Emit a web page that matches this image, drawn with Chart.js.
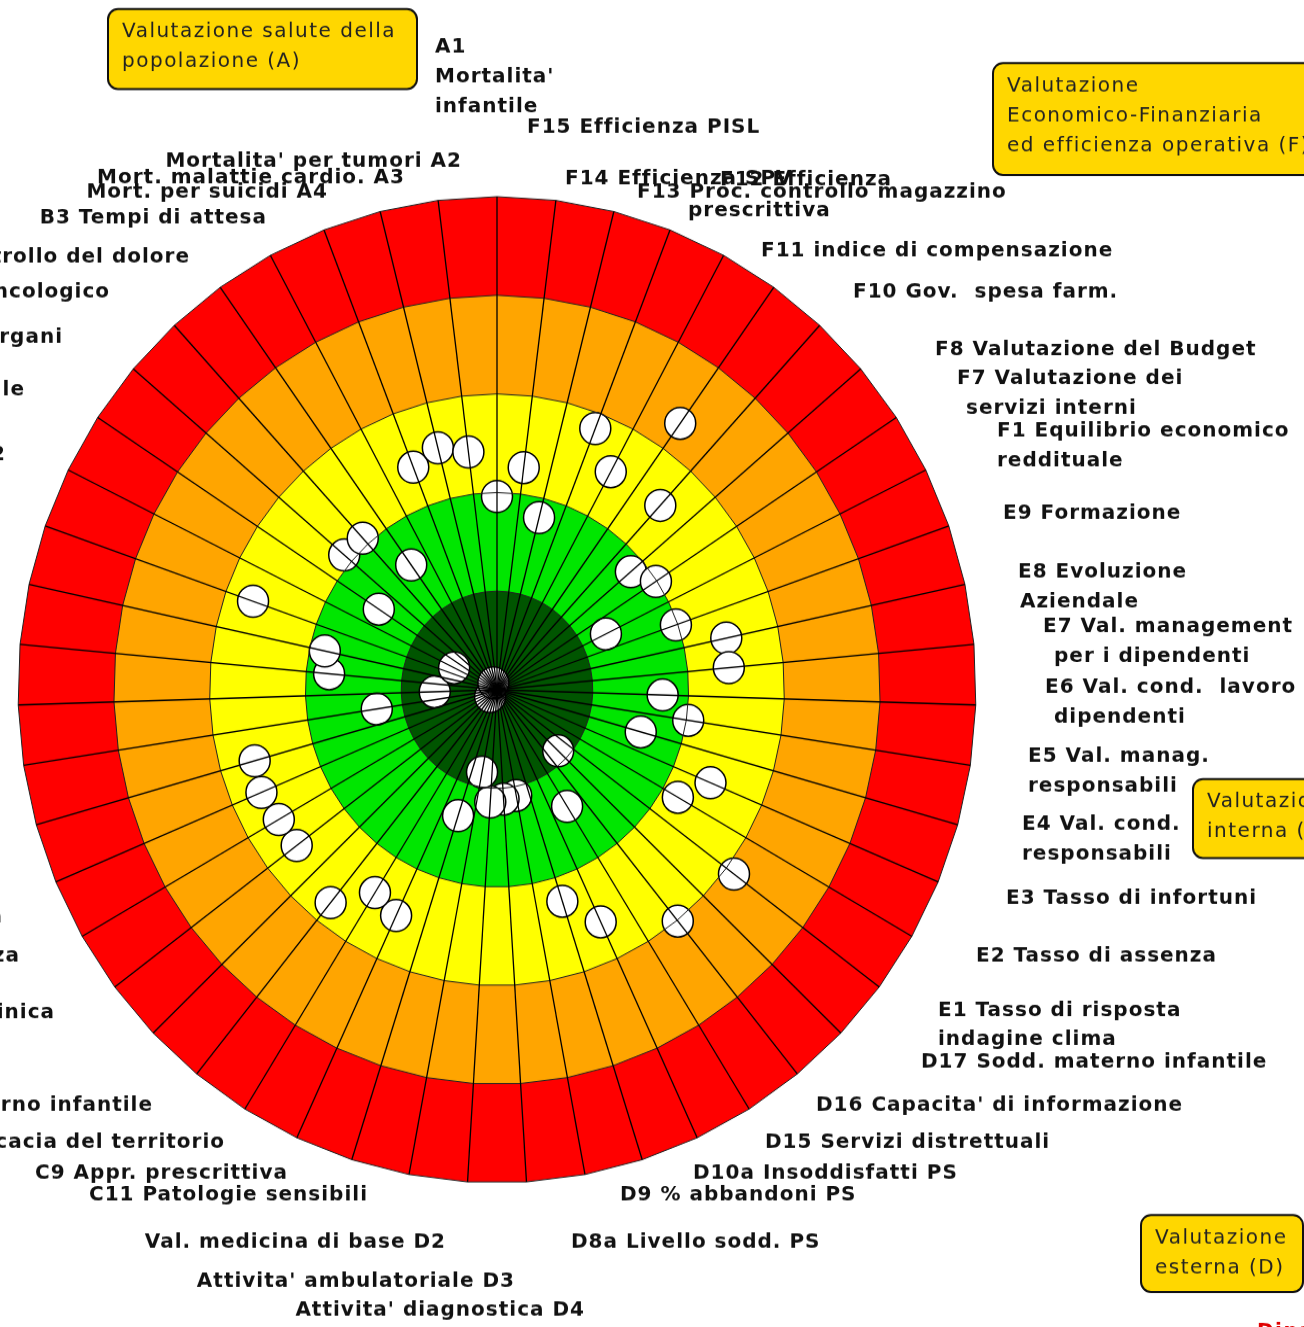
<!DOCTYPE html>
<html>
<head>
<meta charset="utf-8">
<title>Bersaglio</title>
<script src="https://cdn.jsdelivr.net/npm/chart.js@4/dist/chart.umd.min.js"></script>
<style>
  html, body { margin: 0; padding: 0; background: #fff; overflow: hidden; }
</style>
</head>
<body>
<canvas id="bersaglio" width="1304" height="1289" style="display:block;width:1304px;height:1327px"></canvas>
<script>
// raggi del bersaglio, uno per indicatore, dall'alto in senso orario
const spokes = ['I1','I2','I3','I4','I5','I6','I7','I8','I9','I10','I11','I12','I13','I14','I15','I16','I17',
                'I18','I19','I20','I21','I22','I23','I24','I25','I26','I27','I28','I29','I30','I31','I32','I33','I34',
                'I35','I36','I37','I38','I39','I40','I41','I42','I43','I44','I45','I46','I47','I48','I49','I50','I51'];

// punteggio di ogni indicatore (0 = centro, 5 = bordo esterno)
const scores = [1.96, 2.27, 1.80, 2.84, 2.51, 3.31, 2.53, 1.84, 1.99, 1.27, 1.98, 2.45, 2.43, 1.73, 2.02, 1.56, 2.42,
                2.18, 3.10, 0.89, 3.01, 1.39, 2.59, 2.25, 1.09, 1.11, 1.14, 0.85, 1.34, 2.52, 2.42, 2.77, 0.10, 2.62,
                2.63, 2.67, 2.63, 1.27, 0.65, 1.76, 1.84, 2.70, 0.50, 1.48, 2.10, 2.08, 1.55, 0.08, 2.42, 2.53, 2.43];

// fasce di valutazione
const bandLevels = [1, 2, 3, 4, 5];
const bandColors = ['#005500', '#00e600', '#ffff00', '#ffa500', '#ff0000'];

// etichette degli indicatori (testo, x, y, allineamento) in coordinate della pagina
const indicatorLabels = [
  ['A1', 435, 47, 'left'], ["Mortalita'", 435, 77, 'left'], ['infantile', 435, 107, 'left'],
  ["Mortalita' per tumori A2", 462, 161, 'right'],
  ['Mort. malattie cardio. A3', 405, 178, 'right'],
  ['Mort. per suicidi A4', 328, 192, 'right'],
  ['B3 Tempi di attesa', 267, 218, 'right'],
  ['B4 Strategie per il controllo del dolore', 190, 257, 'right'],
  ['B5 Screening oncologico', 110, 292, 'right'],
  ['B6 Donazione organi', 63, 337, 'right'],
  ['B7 Copertura vaccinale', 25, 390, 'right'],
  ["Efficienza attivita' di ricovero C2", 6, 455, 'right'],
  ['C4 Appropriatezza chirurgica', 3, 917, 'right'],
  ['C6 Rischio clinico e sicurezza', 20, 956, 'right'],
  ["C5 Qualita' clinica", 55, 1013, 'right'],
  ['C7 Materno infantile', 153, 1105, 'right'],
  ['C8 Efficacia del territorio', 225, 1142, 'right'],
  ['C9 Appr. prescrittiva', 288, 1173, 'right'],
  ['C11 Patologie sensibili', 368, 1195, 'right'],
  ['Val. medicina di base D2', 446, 1242, 'right'],
  ["Attivita' ambulatoriale D3", 515, 1281, 'right'],
  ["Attivita' diagnostica D4", 585, 1310, 'right'],
  ['D8a Livello sodd. PS', 571, 1242, 'left'],
  ['D9 % abbandoni PS', 620, 1195, 'left'],
  ['D10a Insoddisfatti PS', 693, 1173, 'left'],
  ['D15 Servizi distrettuali', 765, 1142, 'left'],
  ["D16 Capacita' di informazione", 816, 1105, 'left'],
  ['D17 Sodd. materno infantile', 921, 1062, 'left'],
  ['E1 Tasso di risposta', 938, 1011, 'left'], ['indagine clima', 938, 1040, 'left'],
  ['E2 Tasso di assenza', 976, 956, 'left'],
  ['E3 Tasso di infortuni', 1006, 899, 'left'],
  ['E4 Val. cond.  lavoro', 1022, 824, 'left'], ['responsabili', 1022, 854, 'left'],
  ['E5 Val. manag.', 1028, 756, 'left'], ['responsabili', 1028, 786, 'left'],
  ['E6 Val. cond.  lavoro', 1045, 687, 'left'], ['dipendenti', 1054, 717, 'left'],
  ['E7 Val. management', 1043, 627, 'left'], ['per i dipendenti', 1054, 657, 'left'],
  ['E8 Evoluzione', 1018, 572, 'left'], ['Aziendale', 1020, 602, 'left'],
  ['E9 Formazione', 1003, 513, 'left'],
  ['F1 Equilibrio economico', 997, 431, 'left'], ['reddituale', 997, 461, 'left'],
  ['F7 Valutazione dei', 957, 379, 'left'], ['servizi interni', 966, 409, 'left'],
  ['F8 Valutazione del Budget', 935, 350, 'left'],
  ['F10 Gov.  spesa farm.', 853, 292, 'left'],
  ['F11 indice di compensazione', 761, 251, 'left'],
  ['F12 Efficienza', 720, 180, 'left'], ['prescrittiva', 688, 211, 'left'],
  ['F13 Proc. controllo magazzino', 637, 192, 'left'],
  ['F14 Efficienza SPV', 565, 179, 'left'],
  ['F15 Efficienza PISL', 527, 127, 'left']
];

// riquadri delle aree di valutazione
const areaBoxes = [
  { rect: [108, 9, 309, 80], lines: ['Valutazione salute della', 'popolazione (A)'] },
  { rect: [993, 63, 340, 112], lines: ['Valutazione', 'Economico-Finanziaria', 'ed efficienza operativa (F)'] },
  { rect: [1193, 779, 150, 79], lines: ['Valutazione', 'interna (E)'] },
  { rect: [1141, 1215, 162, 77], lines: ['Valutazione', 'esterna (D)'] }
];

const SY = 1327 / 1289; // il bersaglio originale e' leggermente allungato in verticale

const annotationPlugin = {
  id: 'annotazioni',
  afterDraw(chart) {
    const ctx = chart.ctx;
    ctx.save();
    ctx.fillStyle = '#111';
    ctx.textBaseline = 'middle';
    ctx.font = 'bold 20px "DejaVu Sans"';
    ctx.letterSpacing = '1px';
    indicatorLabels.forEach(([text, x, y, align]) => {
      ctx.textAlign = align;
      ctx.fillText(text, x, y / SY);
    });

    ctx.letterSpacing = '1.5px';
    ctx.font = '20px "DejaVu Sans"';
    ctx.textAlign = 'left';
    areaBoxes.forEach(box => {
      const [x, y, w, h] = box.rect;
      ctx.beginPath();
      ctx.roundRect(x, y / SY, w, h / SY, 10);
      ctx.fillStyle = '#ffd700';
      ctx.fill();
      ctx.lineWidth = 2;
      ctx.strokeStyle = '#111';
      ctx.stroke();
      ctx.fillStyle = '#222';
      box.lines.forEach((line, i) => {
        ctx.fillText(line, x + 14, (y + 23 + i * 30) / SY);
      });
    });

    // testo rosso tagliato in basso a destra
    ctx.fillStyle = '#e00000';
    ctx.font = 'bold 20px "DejaVu Sans"';
    ctx.fillText('Dipartimento', 1257, 1332 / SY);
    ctx.restore();
  }
};

const bandDatasets = bandLevels.map((level, i) => ({
  data: spokes.map(() => level),
  backgroundColor: bandColors[i],
  borderWidth: 0,
  pointRadius: 0,
  fill: 'origin'
}));

new Chart(document.getElementById('bersaglio'), {
  type: 'radar',
  data: {
    labels: spokes,
    datasets: [
      {
        data: scores,
        showLine: false,
        fill: false,
        borderWidth: 0,
        backgroundColor: 'transparent',
        pointRadius: 15.5,
        pointBackgroundColor: '#ffffff',
        pointBorderColor: '#000000',
        pointBorderWidth: 1.5
      },
      ...bandDatasets
    ]
  },
  options: {
    responsive: false,
    animation: false,
    events: [],
    layout: { padding: { left: 18, right: 327, top: 191, bottom: 139 } },
    plugins: { legend: { display: false }, tooltip: { enabled: false } },
    scales: {
      r: {
        min: 0,
        max: 5,
        ticks: { display: false, stepSize: 1 },
        pointLabels: { display: false },
        grid: { color: '#222', lineWidth: 1, z: 1 },
        angleLines: { color: '#000', lineWidth: 1.3 }
      }
    }
  },
  plugins: [annotationPlugin]
});
</script>
</body>
</html>
